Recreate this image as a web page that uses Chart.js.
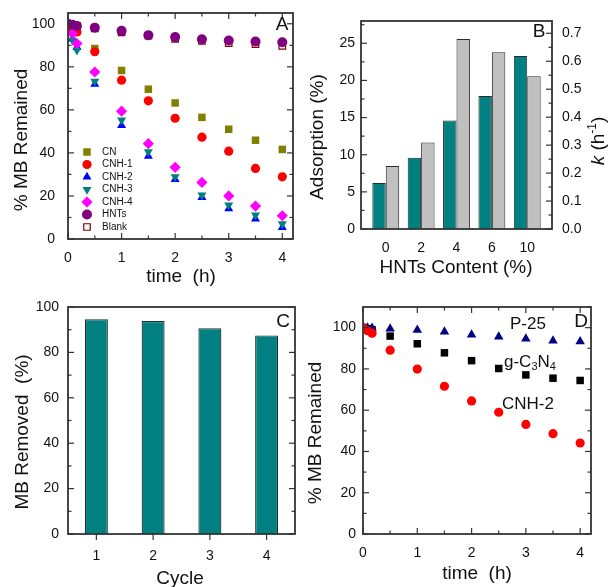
<!DOCTYPE html>
<html>
<head>
<meta charset="utf-8">
<script src="https://cdn.jsdelivr.net/npm/chart.js"></script>
<style>
  html, body { margin: 0; padding: 0; background: #fff; }
  #wrap { position: relative; width: 608px; height: 587px; overflow: hidden; }
  canvas { position: absolute; }
</style>
</head>
<body>
<div id="wrap">
  <canvas id="cA" width="300" height="293" style="left:0;top:0"></canvas>
  <canvas id="cB" width="308" height="293" style="left:300px;top:0"></canvas>
  <canvas id="cC" width="300" height="294" style="left:0;top:293px"></canvas>
  <canvas id="cD" width="308" height="294" style="left:300px;top:293px"></canvas>
</div>
<script>
// --- data ---
const timeH = [0, 0.083, 0.167, 0.5, 1, 1.5, 2, 2.5, 3, 3.5, 4];

// panel A: % MB remained
const aCN    = [100, 98, 96.5, 88.5, 78.3, 69.6, 63.2, 56.5, 51, 45.9, 41.6];
const aCNH1  = [100, 97.5, 96.2, 87, 73.8, 64.2, 56.1, 47.3, 40.8, 32.8, 28.9];
const aCNH2  = [100, 93, 89, 71.9, 52.8, 38.5, 27.7, 19.3, 14.1, 9.3, 5.4];
const aCNH3  = [100, 92.3, 87.7, 73.3, 55.2, 40.5, 28.9, 20.4, 15.8, 11.1, 7];
const aCNH4  = [100, 95.4, 90.8, 77.6, 59.4, 44.3, 33.3, 26.3, 20, 15.3, 10.8];
const aHNTs  = [100, 99.5, 99, 98.2, 96.7, 94.7, 93.8, 92.8, 92.2, 91.8, 91.4];
const aBlank = [100, 99.5, 99, 97.8, 96, 94.5, 93, 92, 91, 90.5, 89.7];

// panel B: adsorption and rate constant vs HNTs content
const bCats = ['0', '2', '4', '6', '10'];
const bAdsorption = [6.2, 9.6, 14.6, 17.9, 23.3];
const bRateK = [0.225, 0.309, 0.68, 0.632, 0.546];

// panel C: recycling
const cCycles = ['1', '2', '3', '4'];
const cRemoved = [94.6, 93.8, 90.6, 87.5];

// panel D: comparison
const dP25  = [100, 100, 99.8, 99.5, 98.8, 98, 96.5, 95.6, 94.6, 93.6, 93.3];
const dGCN  = [100, 99.5, 99, 95.9, 92.2, 87.8, 84, 80.2, 77.1, 75.5, 74.4];
const dCNH2 = [100, 98.5, 97.3, 89.1, 79.9, 71.6, 64.5, 59, 53.1, 48.6, 44.1];

// tick labels
const tTime = [0, 1, 2, 3, 4];
const tPct = [0, 20, 40, 60, 80, 100];
const tAds = [0, 5, 10, 15, 20, 25];
const tK = [0, 0.1, 0.2, 0.3, 0.4, 0.5, 0.6, 0.7];

// --- helpers ---
const FONT = "'Liberation Sans', Arial, sans-serif";
const INK = '#111';
const AXIS = '#333';

function steps(a, b, st) {
  const out = [];
  for (let v = a; v <= b + 1e-9; v += st) out.push(+v.toFixed(4));
  return out;
}

// fixed-size axis, so the plot areas land where the figure has them
function fixSize(s, fit) {
  if (s.isHorizontal()) s.height = fit; else s.width = fit;
  s.paddingTop = s.paddingBottom = s.paddingLeft = s.paddingRight = 0;
}

function ax(min, max, vals, pad, fit, fmt) {
  return {
    min, max, offset: false,
    grid: { display: false, drawTicks: false }, border: { display: false },
    ticks: { color: INK, font: { family: FONT, size: 14 }, padding: pad, maxRotation: 0, autoSkip: false,
             callback: fmt || (v => v) },
    afterBuildTicks: s => { s.ticks = vals.map(v => ({ value: v })); },
    afterFit: s => fixSize(s, fit)
  };
}

function runs(ctx, parts, x, y, size, align) {
  const fontOf = p => `${p.it ? 'italic ' : ''}${p.sub || p.sup ? Math.round(size * 0.62) : size}px ${FONT}`;
  let w = 0;
  parts.forEach(p => { ctx.font = fontOf(p); w += ctx.measureText(p.s).width; });
  let cx = align === 'center' ? x - w / 2 : x;
  ctx.textBaseline = 'middle';
  ctx.textAlign = 'left';
  ctx.fillStyle = INK;
  parts.forEach(p => {
    ctx.font = fontOf(p);
    const dy = p.sub ? size * 0.3 : p.sup ? -size * 0.35 : 0;
    ctx.fillText(p.s, cx, y + dy);
    cx += ctx.measureText(p.s).width;
  });
}

// frame, inward tick marks, titles, labels, legend
const decor = {
  id: 'decor',
  afterDraw(chart, _a, o) {
    const ctx = chart.ctx, ca = chart.chartArea;
    ctx.save();
    ctx.strokeStyle = AXIS;
    ctx.lineWidth = 1.8;
    ctx.strokeRect(ca.left, ca.top, ca.right - ca.left, ca.bottom - ca.top);
    ctx.lineWidth = 1.2;
    (o.marks || []).forEach(m => {
      const sc = chart.scales[m.scale];
      const s = m.out ? -1 : 1;
      const put = (vals, len) => vals.forEach(v => {
        const p = sc.getPixelForValue(v);
        ctx.beginPath();
        if (m.side === 'bottom') { ctx.moveTo(p, ca.bottom); ctx.lineTo(p, ca.bottom - s * len); }
        if (m.side === 'top') { ctx.moveTo(p, ca.top); ctx.lineTo(p, ca.top + s * len); }
        if (m.side === 'left') { ctx.moveTo(ca.left, p); ctx.lineTo(ca.left + s * len, p); }
        if (m.side === 'right') { ctx.moveTo(ca.right, p); ctx.lineTo(ca.right - s * len, p); }
        ctx.stroke();
      });
      put(m.major || [], 6);
      put(m.minor || [], 3.5);
    });
    (o.texts || []).forEach(t => {
      const parts = t.parts || [{ s: t.s }];
      ctx.save();
      ctx.translate(t.x, t.y);
      if (t.rot) ctx.rotate(-Math.PI / 2);
      runs(ctx, parts, 0, 0, t.size || 19, t.align || 'center');
      ctx.restore();
    });
    if (o.legend) {
      const L = o.legend;
      chart.data.datasets.forEach((d, i) => {
        const y = L.y + i * L.step;
        ctx.fillStyle = d.pointBackgroundColor;
        ctx.strokeStyle = d.pointBorderColor;
        ctx.lineWidth = d.pointBorderWidth || 0;
        Chart.helpers.drawPoint(ctx, { pointStyle: d.pointStyle, rotation: d.pointRotation || 0,
          radius: d.pointRadius, borderWidth: d.pointBorderWidth || 0 }, L.x, y);
        ctx.fillStyle = INK;
        ctx.font = `${L.size}px ${FONT}`;
        ctx.textAlign = 'left';
        ctx.textBaseline = 'middle';
        ctx.fillText(d.label, L.tx, y);
      });
    }
    ctx.restore();
  }
};

function series(label, ys, style, r, color, extra) {
  return Object.assign({
    label,
    data: timeH.map((t, i) => ({ x: t, y: ys[i] })),
    pointStyle: style, pointRadius: r, pointHoverRadius: r,
    pointBackgroundColor: color, pointBorderColor: color, pointBorderWidth: 0
  }, extra || {});
}

const common = { responsive: false, animation: false, events: [] };

// --- A ---
new Chart(document.getElementById('cA'), {
  type: 'scatter',
  data: {
    datasets: [
      series('CN', aCN, 'rect', 5.3, '#808000', { order: 7 }),
      series('CNH-1', aCNH1, 'circle', 4.6, '#ff0000', { order: 6 }),
      series('CNH-2', aCNH2, 'triangle', 5.2, '#0000ff', { order: 5 }),
      series('CNH-3', aCNH3, 'triangle', 5.2, '#008080', { order: 4, pointRotation: 180 }),
      series('CNH-4', aCNH4, 'rectRot', 5.6, '#ff00ff', { order: 3 }),
      series('HNTs', aHNTs, 'circle', 5, '#800080', { order: 1 }),
      series('Blank', aBlank, 'rect', 4.6, '#ffffff', { order: 2, pointBorderColor: '#800000', pointBorderWidth: 1.2 })
    ]
  },
  options: Object.assign({}, common, {
    layout: { autoPadding: false, padding: { top: 13, right: 7, left: 0, bottom: 0 } },
    scales: {
      x: ax(0, 4.2, tTime, 11, 54),
      y: ax(0, 105, tPct, 13, 68)
    },
    plugins: {
      legend: { display: false }, tooltip: { enabled: false },
      decor: {
        marks: [
          { scale: 'x', side: 'bottom', major: tTime, minor: steps(0.5, 3.5, 1) },
          { scale: 'x', side: 'top', major: tTime, minor: steps(0.5, 3.5, 1) },
          { scale: 'y', side: 'left', major: tPct, minor: steps(10, 90, 20) },
          { scale: 'y', side: 'right', major: tPct, minor: steps(10, 90, 20) }
        ],
        texts: [
          { s: 'A', x: 282, y: 25 },
          { s: '% MB Remained', x: 22, y: 140, rot: true },
          { s: 'time  (h)', x: 181, y: 277 }
        ],
        legend: { x: 87, tx: 102, y: 152, step: 12.5, size: 10 }
      }
    }
  }),
  plugins: [decor]
});

// --- B ---
new Chart(document.getElementById('cB'), {
  type: 'bar',
  data: {
    datasets: [
      { label: 'Adsorption', data: bCats.map((c, i) => ({ x: i, y: bAdsorption[i] })), yAxisID: 'y',
        backgroundColor: '#008080', borderColor: '#2a2a2a', borderWidth: 1 },
      { label: 'k', data: bCats.map((c, i) => ({ x: i, y: bRateK[i] })), yAxisID: 'y1',
        backgroundColor: '#c0c0c0', borderColor: '#2a2a2a', borderWidth: 1 }
    ]
  },
  options: Object.assign({}, common, {
    layout: { autoPadding: false, padding: { top: 21, right: 0, left: 0, bottom: 0 } },
    categoryPercentage: 0.76, barPercentage: 1,
    scales: {
      x: Object.assign(ax(-0.7, 4.7, bCats.map((c, i) => i), 11, 64, v => bCats[v]), { type: 'linear' }),
      y: Object.assign(ax(0, 28, tAds, 6, 61), { position: 'left' }),
      y1: Object.assign(ax(0, 0.744, tK, 10, 56, v => v.toFixed(1)), { position: 'right' })
    },
    plugins: {
      legend: { display: false }, tooltip: { enabled: false },
      decor: {
        marks: [
          { scale: 'y', side: 'left', major: tAds, minor: steps(2.5, 27.5, 5) },
          { scale: 'y1', side: 'right', major: tK, minor: steps(0.05, 0.65, 0.1) }
        ],
        texts: [
          { s: 'B', x: 239, y: 32 },
          { s: 'Adsorption (%)', x: 18, y: 137, rot: true },
          { s: 'HNTs Content (%)', x: 156, y: 268 },
          { parts: [{ s: 'k', it: true }, { s: ' (h' }, { s: '-1', sup: true }, { s: ')' }], x: 299, y: 141, rot: true }
        ]
      }
    }
  }),
  plugins: [decor]
});

// --- C ---
new Chart(document.getElementById('cC'), {
  type: 'bar',
  data: {
    labels: cCycles,
    datasets: [{ label: 'MB Removed', data: cRemoved, backgroundColor: '#008080',
                 borderColor: '#1f2f2f', borderWidth: 1.2, categoryPercentage: 0.81, barPercentage: 0.5 }]
  },
  options: Object.assign({}, common, {
    layout: { autoPadding: false, padding: { top: 14, right: 5, left: 0, bottom: 0 } },
    scales: {
      x: {
        grid: { display: false, drawTicks: false }, border: { display: false },
        ticks: { color: INK, font: { family: FONT, size: 14 }, padding: 14, maxRotation: 0 },
        afterFit: s => fixSize(s, 53)
      },
      y: ax(0, 100, tPct, 9, 68)
    },
    plugins: {
      legend: { display: false }, tooltip: { enabled: false },
      decor: {
        marks: [
          { scale: 'x', side: 'bottom', major: [0, 1, 2, 3], out: true },
          { scale: 'y', side: 'left', major: tPct, minor: steps(10, 90, 20) },
          { scale: 'y', side: 'right', major: tPct, minor: steps(10, 90, 20) }
        ],
        texts: [
          { s: 'C', x: 283, y: 29 },
          { s: 'MB Removed  (%)', x: 23, y: 139, rot: true },
          { s: 'Cycle', x: 180, y: 286 }
        ]
      }
    }
  }),
  plugins: [decor]
});

// --- D ---
new Chart(document.getElementById('cD'), {
  type: 'scatter',
  data: {
    datasets: [
      series('CNH-2', dCNH2, 'circle', 4.6, '#ff0000'),
      series('P-25', dP25, 'triangle', 5.5, '#000080'),
      series('g-C3N4', dGCN, 'rect', 5.3, '#000000')
    ]
  },
  options: Object.assign({}, common, {
    layout: { autoPadding: false, padding: { top: 14, right: 17, left: 0, bottom: 0 } },
    scales: {
      x: ax(0, 4.2, tTime, 11, 53),
      y: ax(0, 110, tPct, 7, 63)
    },
    plugins: {
      legend: { display: false }, tooltip: { enabled: false },
      decor: {
        marks: [
          { scale: 'x', side: 'bottom', major: tTime, minor: steps(0.5, 3.5, 1) },
          { scale: 'x', side: 'top', major: tTime, minor: steps(0.5, 3.5, 1) },
          { scale: 'y', side: 'left', major: tPct, minor: steps(10, 90, 20) },
          { scale: 'y', side: 'right', major: tPct, minor: steps(10, 110, 20) }
        ],
        texts: [
          { s: 'D', x: 281, y: 29 },
          { s: 'P-25', x: 210, y: 31, size: 17, align: 'left' },
          { parts: [{ s: 'g-C' }, { s: '3', sub: true }, { s: 'N' }, { s: '4', sub: true }], x: 204, y: 69, size: 17, align: 'left' },
          { s: 'CNH-2', x: 202, y: 111, size: 17, align: 'left' },
          { s: '% MB Remained', x: 16, y: 140, rot: true },
          { s: 'time  (h)', x: 177, y: 281 }
        ]
      }
    }
  }),
  plugins: [decor]
});
</script>
</body>
</html>
